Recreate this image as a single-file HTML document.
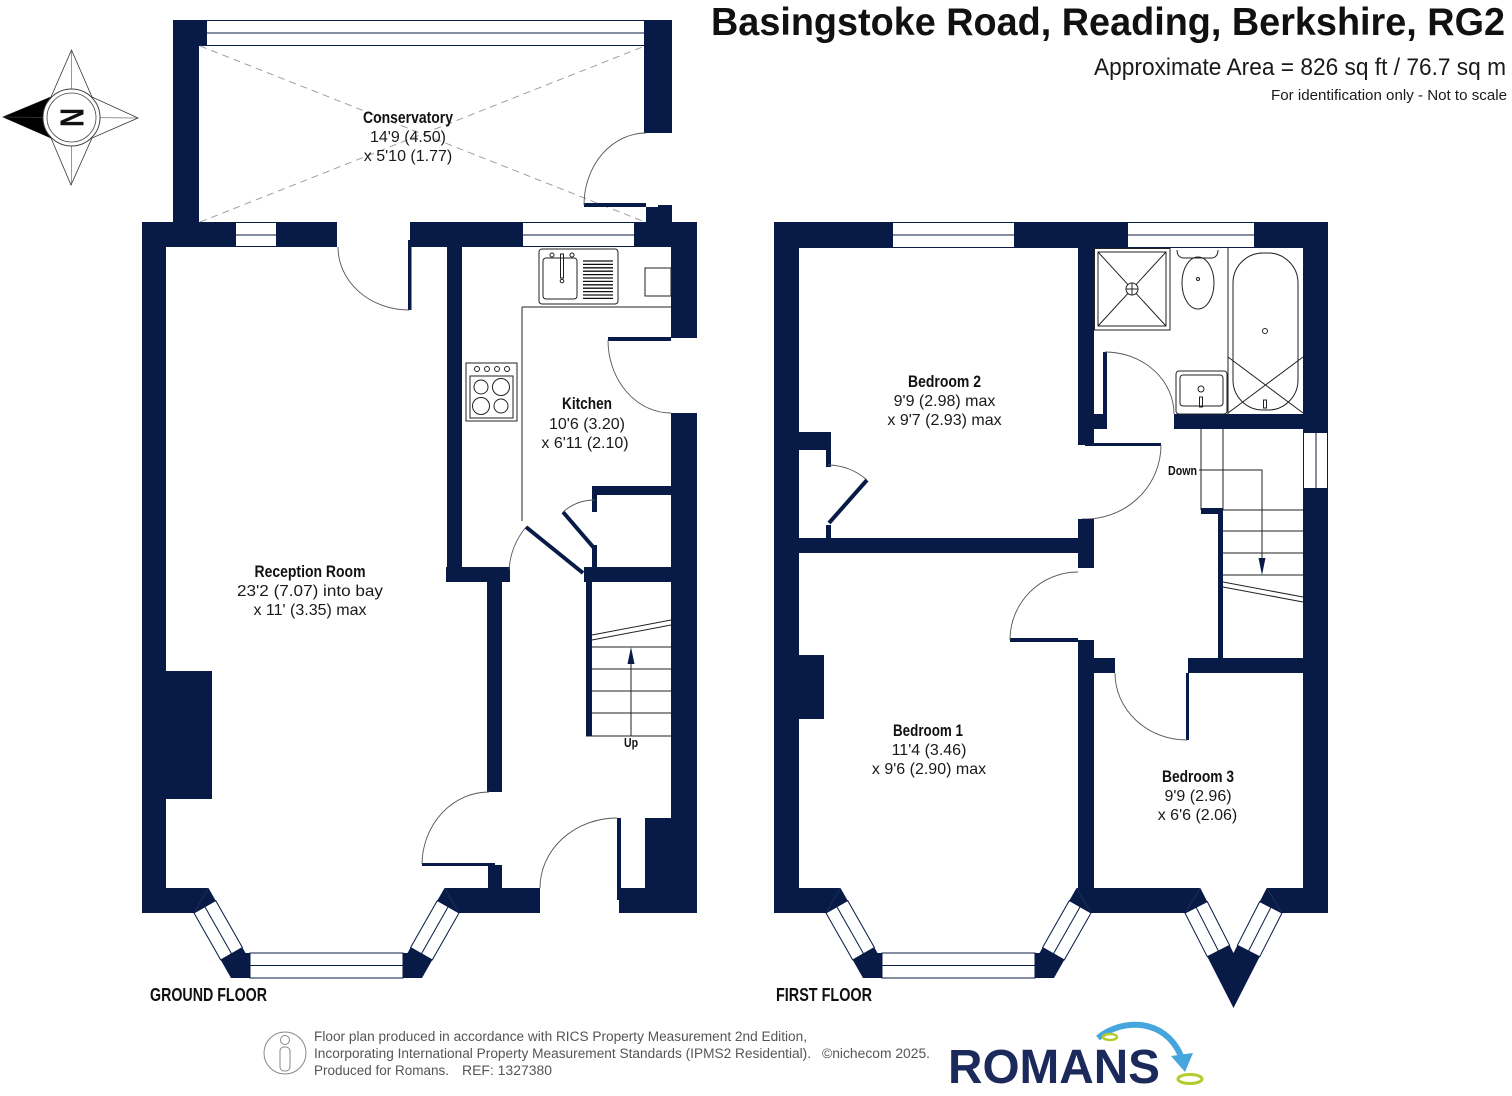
<!DOCTYPE html>
<html><head><meta charset="utf-8"><style>
html,body{margin:0;padding:0;background:#fff;}
svg{display:block;}
text{font-family:"Liberation Sans",Arial,sans-serif;}
</style></head><body>
<svg width="1512" height="1096" viewBox="0 0 1512 1096" xmlns="http://www.w3.org/2000/svg">
<defs>
<style>
.w{fill:#081b46;}
.win{fill:#fff;stroke:#081b46;stroke-width:1;}
.ln{stroke:#081b46;stroke-width:1;fill:none;}
.arc{stroke:#555;stroke-width:0.9;fill:none;}
.fx{stroke:#222;stroke-width:1;fill:none;}
.nm{font-weight:bold;font-size:17px;fill:#111;}
.dm{font-size:16px;fill:#1a1a1a;}
</style>
</defs>

<!-- ================= HEADER ================= -->
<text x="711" y="35" font-size="39" font-weight="bold" fill="#111" textLength="794" lengthAdjust="spacingAndGlyphs">Basingstoke Road, Reading, Berkshire, RG2</text>
<text x="1094" y="75" font-size="24" fill="#1a1a1a" textLength="412" lengthAdjust="spacingAndGlyphs">Approximate Area = 826 sq ft / 76.7 sq m</text>
<text x="1271" y="100" font-size="15" fill="#1a1a1a" textLength="236" lengthAdjust="spacingAndGlyphs">For identification only - Not to scale</text>

<!-- ================= COMPASS ================= -->
<g>
<polygon points="71.5,50 92,97 138,118 92,138 71,185 51,138 3,117 51,97" fill="#fff" stroke="#333" stroke-width="0.8"/>
<polygon points="3,117 51,97 60,117 51,138" fill="#000"/>
<line x1="71.5" y1="50" x2="71.5" y2="185" stroke="#555" stroke-width="0.6"/>
<line x1="3" y1="117" x2="138" y2="118" stroke="#555" stroke-width="0.6"/>
<circle cx="71.5" cy="117.5" r="28.5" fill="#fff" stroke="#444" stroke-width="1"/>
<circle cx="71.5" cy="117.5" r="24.5" fill="none" stroke="#444" stroke-width="0.8"/>
<text transform="translate(71.5,117.5) rotate(-90)" x="-9.5" y="12" font-size="33" font-weight="bold" fill="#111" textLength="19" lengthAdjust="spacingAndGlyphs">N</text>
</g>

<!-- ================= GROUND FLOOR ================= -->
<!-- Conservatory -->
<rect class="w" x="173" y="20" width="26" height="202"/>
<rect class="w" x="173" y="20" width="34" height="26"/>
<rect class="w" x="644" y="20" width="28" height="113"/>
<rect x="207" y="20" width="437" height="26" fill="#fff"/>
<line class="ln" x1="207" y1="20.5" x2="644" y2="20.5"/>
<line class="ln" x1="207" y1="33" x2="644" y2="33"/>
<line class="ln" x1="207" y1="45.5" x2="644" y2="45.5"/>
<line x1="200" y1="46" x2="645" y2="222" stroke="#9aa0a8" stroke-width="1" stroke-dasharray="7 5"/>
<line x1="200" y1="222" x2="645" y2="46" stroke="#9aa0a8" stroke-width="1" stroke-dasharray="7 5"/>
<rect class="w" x="584" y="203" width="62" height="4"/>
<rect class="w" x="646" y="207" width="12" height="15"/>
<rect class="w" x="658" y="205" width="14" height="17"/>
<path class="arc" d="M646,133 A62,72 0 0 0 584,205"/>

<!-- top wall -->
<rect class="w" x="142" y="222" width="195" height="25"/>
<rect class="w" x="410" y="222" width="287" height="25"/>
<rect x="236" y="222" width="40" height="25" fill="#fff"/>
<line class="ln" x1="236" y1="222.5" x2="276" y2="222.5"/>
<line class="ln" x1="236" y1="235" x2="276" y2="235"/>
<line class="ln" x1="236" y1="246.5" x2="276" y2="246.5"/>
<rect x="523" y="222" width="111" height="25" fill="#fff"/>
<line class="ln" x1="523" y1="222.5" x2="634" y2="222.5"/>
<line class="ln" x1="523" y1="235" x2="634" y2="235"/>
<line class="ln" x1="523" y1="246.5" x2="634" y2="246.5"/>
<!-- reception top door -->
<rect class="w" x="408" y="240" width="3.5" height="70"/>
<path class="arc" d="M338,247 A71,63 0 0 0 409,310"/>

<!-- left wall + chimney -->
<rect class="w" x="142" y="222" width="24" height="691"/>
<rect class="w" x="166" y="671" width="46" height="128"/>

<!-- kitchen walls -->
<rect class="w" x="447" y="247" width="15" height="335"/>
<rect class="w" x="446" y="567" width="64" height="15"/>
<rect class="w" x="584" y="567" width="87" height="15"/>
<rect class="w" x="671" y="222" width="26" height="116"/>
<rect class="w" x="671" y="413" width="26" height="500"/>
<rect class="w" x="608" y="337" width="63" height="4"/>
<path class="arc" d="M608,340 A63,73 0 0 0 671,413"/>
<!-- cupboard under stairs -->
<rect class="w" x="592" y="486" width="79" height="9"/>
<rect class="w" x="592" y="486" width="5" height="26"/>
<rect class="w" x="592" y="545" width="5" height="22"/>
<line x1="563" y1="512" x2="594" y2="548" stroke="#081b46" stroke-width="4"/>
<path class="arc" d="M563,512 A48,48 0 0 1 595,500"/>
<!-- kitchen door -->
<line x1="526" y1="527" x2="583" y2="573" stroke="#081b46" stroke-width="4"/>
<path class="arc" d="M526,527 A75,75 0 0 0 509,570"/>
<!-- kitchen fixtures -->
<line class="fx" x1="522" y1="307" x2="671" y2="307"/>
<line class="fx" x1="522" y1="307" x2="522" y2="521"/>
<rect class="fx" x="539" y="249" width="79" height="55" rx="3"/>
<rect class="fx" x="543" y="258" width="34" height="41" rx="3"/>
<rect class="fx" x="560.5" y="254" width="3" height="24"/>
<circle class="fx" cx="562" cy="281" r="1.8"/>
<circle class="fx" cx="552" cy="255" r="2"/>
<circle class="fx" cx="572" cy="255" r="2"/>
<g stroke="#111" stroke-width="1.3">
<line x1="583" y1="261" x2="613" y2="261"/><line x1="583" y1="264.4" x2="613" y2="264.4"/>
<line x1="583" y1="267.8" x2="613" y2="267.8"/><line x1="583" y1="271.2" x2="613" y2="271.2"/>
<line x1="583" y1="274.6" x2="613" y2="274.6"/><line x1="583" y1="278" x2="613" y2="278"/>
<line x1="583" y1="281.4" x2="613" y2="281.4"/><line x1="583" y1="284.8" x2="613" y2="284.8"/>
<line x1="583" y1="288.2" x2="613" y2="288.2"/><line x1="583" y1="291.6" x2="613" y2="291.6"/>
<line x1="583" y1="295" x2="613" y2="295"/><line x1="583" y1="298.4" x2="613" y2="298.4"/>
</g>
<rect class="fx" x="645" y="268" width="26" height="28"/>
<rect class="fx" x="466" y="363" width="51" height="58"/>
<rect class="fx" x="470" y="376" width="43" height="42"/>
<circle class="fx" cx="477" cy="369" r="2.5"/><circle class="fx" cx="487" cy="369" r="2.5"/>
<circle class="fx" cx="497" cy="369" r="2.5"/><circle class="fx" cx="507" cy="369" r="2.5"/>
<circle class="fx" cx="481" cy="387" r="7"/><circle class="fx" cx="501" cy="387" r="8.5"/>
<circle class="fx" cx="481" cy="406" r="8.5"/><circle class="fx" cx="501" cy="406" r="7"/>

<!-- hall -->
<rect class="w" x="487" y="582" width="15" height="210"/>
<rect class="w" x="422" y="863" width="73" height="3"/>
<rect class="w" x="488" y="865" width="14" height="23"/>
<path class="arc" d="M489,792 A67,73 0 0 0 422,864"/>
<!-- stairs -->
<rect class="w" x="586" y="582" width="6" height="154"/>
<g class="fx">
<line x1="592" y1="647" x2="671" y2="647"/><line x1="592" y1="669" x2="671" y2="669"/>
<line x1="592" y1="691" x2="671" y2="691"/><line x1="592" y1="713" x2="671" y2="713"/>
<line x1="586" y1="736" x2="671" y2="736"/>
<line x1="592" y1="640" x2="671" y2="625"/><line x1="592" y1="635" x2="671" y2="620"/>
<line x1="631" y1="736" x2="631" y2="655"/>
</g>
<polygon points="631,647 627.5,664 634.5,664" fill="#081b46"/>
<text x="631" y="747" font-size="13" font-weight="bold" fill="#111" text-anchor="middle" textLength="14" lengthAdjust="spacingAndGlyphs">Up</text>
<!-- front door -->
<rect class="w" x="645" y="818" width="26" height="95"/>
<rect class="w" x="617" y="818" width="4" height="82"/>
<rect class="w" x="619" y="888" width="78" height="25"/>
<path class="arc" d="M617,818 A77,70 0 0 0 540,888"/>

<!-- bottom wall + bay (ground) -->
<polygon class="w" points="142,888 208.5,888 194,913 142,913"/>
<polygon class="w" points="194,913 231,978 422,978 459,913 444.5,888 407.5,953 245.5,953 208.5,888"/>
<polygon class="w" points="444.5,888 540,888 540,913 459,913"/>
<polygon class="win" points="194,913 220.7,959.9 242.4,947.5 215.7,900.6"/>
<line class="ln" x1="204.85" y1="906.8" x2="231.55" y2="953.7"/>
<rect class="win" x="250" y="953" width="153" height="25"/>
<line class="ln" x1="250" y1="965.5" x2="403" y2="965.5"/>
<polygon class="win" points="459,913 432.3,959.9 410.6,947.5 437.3,900.6"/>
<line class="ln" x1="448.15" y1="906.8" x2="421.45" y2="953.7"/>

<!-- labels ground -->
<text class="nm" x="408" y="123" text-anchor="middle" textLength="90" lengthAdjust="spacingAndGlyphs">Conservatory</text>
<text class="dm" x="408" y="142" text-anchor="middle">14'9 (4.50)</text>
<text class="dm" x="408" y="161" text-anchor="middle">x 5'10 (1.77)</text>
<text class="nm" x="587" y="409" text-anchor="middle" textLength="50" lengthAdjust="spacingAndGlyphs">Kitchen</text>
<text class="dm" x="587" y="429" text-anchor="middle">10'6 (3.20)</text>
<text class="dm" x="585" y="448" text-anchor="middle">x 6'11 (2.10)</text>
<text class="nm" x="310" y="577" text-anchor="middle" textLength="111" lengthAdjust="spacingAndGlyphs">Reception Room</text>
<text class="dm" x="310" y="596" text-anchor="middle" textLength="146" lengthAdjust="spacingAndGlyphs">23'2 (7.07) into bay</text>
<text class="dm" x="310" y="615" text-anchor="middle">x 11' (3.35) max</text>
<text x="150" y="1001" font-size="18" font-weight="bold" fill="#111" textLength="117" lengthAdjust="spacingAndGlyphs">GROUND FLOOR</text>

<!-- ================= FIRST FLOOR ================= -->
<rect class="w" x="774" y="222" width="25" height="691"/>
<rect class="w" x="774" y="222" width="554" height="26"/>
<rect class="w" x="1303" y="222" width="25" height="691"/>
<rect x="893" y="222" width="121" height="26" fill="#fff"/>
<line class="ln" x1="893" y1="222.5" x2="1014" y2="222.5"/>
<line class="ln" x1="893" y1="235" x2="1014" y2="235"/>
<line class="ln" x1="893" y1="247.5" x2="1014" y2="247.5"/>
<rect x="1128" y="222" width="126" height="26" fill="#fff"/>
<line class="ln" x1="1128" y1="222.5" x2="1254" y2="222.5"/>
<line class="ln" x1="1128" y1="235" x2="1254" y2="235"/>
<line class="ln" x1="1128" y1="247.5" x2="1254" y2="247.5"/>
<rect x="1303" y="433" width="25" height="55" fill="#fff"/>
<line class="ln" x1="1303.5" y1="433" x2="1303.5" y2="488"/>
<line class="ln" x1="1316" y1="433" x2="1316" y2="488"/>
<line class="ln" x1="1327.5" y1="433" x2="1327.5" y2="488"/>

<!-- internal walls -->
<rect class="w" x="1078" y="248" width="16" height="197"/>
<rect class="w" x="1094" y="414" width="13" height="15"/>
<rect class="w" x="1103" y="352" width="4" height="64"/>
<path class="arc" d="M1105,352 A69,62 0 0 1 1174,414"/>
<rect class="w" x="1174" y="414" width="129" height="15"/>
<rect class="w" x="1085" y="443" width="76" height="3"/>
<path class="arc" d="M1161,445 A76,74 0 0 1 1082,519"/>
<rect class="w" x="1078" y="519" width="16" height="49"/>
<rect class="w" x="799" y="538" width="295" height="15"/>
<rect class="w" x="1010" y="638" width="68" height="4"/>
<path class="arc" d="M1010,640 A68,68 0 0 1 1078,572"/>
<rect class="w" x="1078" y="640" width="16" height="248"/>
<rect class="w" x="1094" y="658" width="21" height="15"/>
<rect class="w" x="1188" y="658" width="115" height="15"/>
<rect class="w" x="1186" y="673" width="3" height="67"/>
<path class="arc" d="M1187,740 A72,67 0 0 1 1115,673"/>
<!-- bed2 cupboard -->
<rect class="w" x="799" y="432" width="32" height="18"/>
<rect class="w" x="826" y="450" width="5" height="17"/>
<rect class="w" x="826" y="525" width="5" height="13"/>
<line x1="829" y1="523" x2="867" y2="480" stroke="#081b46" stroke-width="4"/>
<path class="arc" d="M867,480 A60,60 0 0 0 828,465"/>
<!-- chimney bed1 -->
<rect class="w" x="799" y="655" width="25" height="64"/>

<!-- bathroom fixtures -->
<rect class="fx" x="1094.5" y="248.5" width="75.5" height="81.5"/>
<rect class="fx" x="1098" y="252" width="68" height="74"/>
<line class="fx" x1="1098" y1="252" x2="1166" y2="326"/>
<line class="fx" x1="1166" y1="252" x2="1098" y2="326"/>
<circle cx="1132" cy="289" r="6" fill="#fff" stroke="#222"/>
<line class="fx" x1="1126" y1="289" x2="1138" y2="289"/><line class="fx" x1="1132" y1="283" x2="1132" y2="295"/>
<path class="fx" d="M1177,250 Q1177,257 1183,258 L1212,258 Q1218,257 1218,250"/>
<ellipse class="fx" cx="1198" cy="283" rx="16" ry="26"/>
<circle class="fx" cx="1198" cy="279" r="1.5"/>
<line class="fx" x1="1228" y1="248" x2="1228" y2="414"/>
<rect class="fx" x="1233" y="253" width="65" height="157" rx="30"/>
<line class="fx" x1="1228" y1="357" x2="1303" y2="413"/>
<line class="fx" x1="1303" y1="357" x2="1228" y2="413"/>
<circle class="fx" cx="1265" cy="331" r="2.5"/>
<rect class="fx" x="1263.5" y="400" width="3" height="8"/>
<rect class="fx" x="1176" y="371" width="51" height="43" rx="3"/>
<rect class="fx" x="1180" y="375" width="43" height="31" rx="3"/>
<circle class="fx" cx="1201" cy="389" r="3"/>
<rect class="fx" x="1199.5" y="397" width="3" height="10"/>

<!-- stairs first -->
<rect class="w" x="1218" y="510" width="5" height="148"/>
<rect class="w" x="1201" y="508" width="22" height="6"/>
<g class="fx">
<line x1="1201" y1="429" x2="1201" y2="510"/><line x1="1223" y1="429" x2="1223" y2="510"/>
<line x1="1223" y1="510" x2="1303" y2="510"/><line x1="1223" y1="531" x2="1303" y2="531"/>
<line x1="1223" y1="553" x2="1303" y2="553"/><line x1="1223" y1="575" x2="1303" y2="575"/>
<line x1="1223" y1="582" x2="1303" y2="597"/><line x1="1223" y1="587" x2="1303" y2="602"/>
<polyline points="1199,470 1262,470 1262,560"/>
</g>
<polygon points="1262,575 1258.5,558 1265.5,558" fill="#081b46"/>
<text x="1182.5" y="475" font-size="13" font-weight="bold" fill="#111" text-anchor="middle" textLength="29" lengthAdjust="spacingAndGlyphs">Down</text>

<!-- bottom wall + bays (first) -->
<polygon class="w" points="774,888 840.5,888 826,913 774,913"/>
<polygon class="w" points="826,913 863,978 1054,978 1091,913 1076.5,888 1039.5,953 877.5,953 840.5,888"/>
<polygon class="win" points="826,913 852.7,959.9 874.4,947.5 847.7,900.6"/>
<line class="ln" x1="836.85" y1="906.8" x2="863.55" y2="953.7"/>
<rect class="win" x="882" y="953" width="153" height="25"/>
<line class="ln" x1="882" y1="965.5" x2="1035" y2="965.5"/>
<polygon class="win" points="1091,913 1064.3,959.9 1042.6,947.5 1069.3,900.6"/>
<line class="ln" x1="1080.15" y1="906.8" x2="1053.45" y2="953.7"/>
<polygon class="w" points="1076.5,888 1200.3,888 1185,913 1091,913"/>
<polygon class="w" points="1185,913 1233.5,1008 1282,913 1266.7,888 1233.5,953 1200.3,888"/>
<polygon class="w" points="1266.7,888 1328,888 1328,913 1282,913"/>
<polygon class="win" points="1185,913 1207.3,956.7 1229.6,945.3 1207.3,901.6"/>
<line class="ln" x1="1196.15" y1="907.3" x2="1218.45" y2="951"/>
<polygon class="win" points="1282,913 1259.7,956.7 1237.4,945.3 1259.7,901.6"/>
<line class="ln" x1="1270.85" y1="907.3" x2="1248.55" y2="951"/>

<!-- labels first -->
<text class="nm" x="944.5" y="387" text-anchor="middle" textLength="73" lengthAdjust="spacingAndGlyphs">Bedroom 2</text>
<text class="dm" x="944.5" y="406" text-anchor="middle">9'9 (2.98) max</text>
<text class="dm" x="944.5" y="425" text-anchor="middle">x 9'7 (2.93) max</text>
<text class="nm" x="928" y="736" text-anchor="middle" textLength="70" lengthAdjust="spacingAndGlyphs">Bedroom 1</text>
<text class="dm" x="929" y="755" text-anchor="middle">11'4 (3.46)</text>
<text class="dm" x="929" y="774" text-anchor="middle">x 9'6 (2.90) max</text>
<text class="nm" x="1198" y="782" text-anchor="middle" textLength="72" lengthAdjust="spacingAndGlyphs">Bedroom 3</text>
<text class="dm" x="1198" y="801" text-anchor="middle">9'9 (2.96)</text>
<text class="dm" x="1197.5" y="820" text-anchor="middle">x 6'6 (2.06)</text>
<text x="776" y="1001" font-size="18" font-weight="bold" fill="#111" textLength="96" lengthAdjust="spacingAndGlyphs">FIRST FLOOR</text>

<!-- ================= FOOTER ================= -->
<circle cx="285" cy="1053" r="21" fill="none" stroke="#888" stroke-width="1"/>
<circle cx="285" cy="1040" r="4.5" fill="none" stroke="#888" stroke-width="1"/>
<rect x="280" y="1047" width="10" height="24" rx="4" fill="none" stroke="#888" stroke-width="1"/>
<text x="314" y="1041" font-size="13.5" fill="#555" textLength="493" lengthAdjust="spacingAndGlyphs">Floor plan produced in accordance with RICS Property Measurement 2nd Edition,</text>
<text x="314" y="1058" font-size="13.5" fill="#555" textLength="497" lengthAdjust="spacingAndGlyphs">Incorporating International Property Measurement Standards (IPMS2 Residential).</text>
<text x="822" y="1058" font-size="13.5" fill="#555" textLength="108" lengthAdjust="spacingAndGlyphs">©nichecom 2025.</text>
<text x="314" y="1075" font-size="13.5" fill="#555" textLength="135" lengthAdjust="spacingAndGlyphs">Produced for Romans.</text>
<text x="462" y="1075" font-size="13.5" fill="#555" textLength="90" lengthAdjust="spacingAndGlyphs">REF: 1327380</text>

<!-- Romans logo -->
<text x="948" y="1083" font-size="48" font-weight="bold" fill="#1b2a5b" textLength="212" lengthAdjust="spacingAndGlyphs">ROMANS</text>
<path d="M1098,1038 C1122,1018 1165,1018 1181,1056" fill="none" stroke="#45a6de" stroke-width="6"/>
<polygon points="1171,1056 1193,1053 1185,1072" fill="#45a6de"/>
<ellipse cx="1110" cy="1037" rx="7" ry="3" fill="none" stroke="#b5cc2e" stroke-width="2.5"/>
<ellipse cx="1190" cy="1079" rx="12" ry="4.5" fill="none" stroke="#b5cc2e" stroke-width="3"/>
</svg>
</body></html>
